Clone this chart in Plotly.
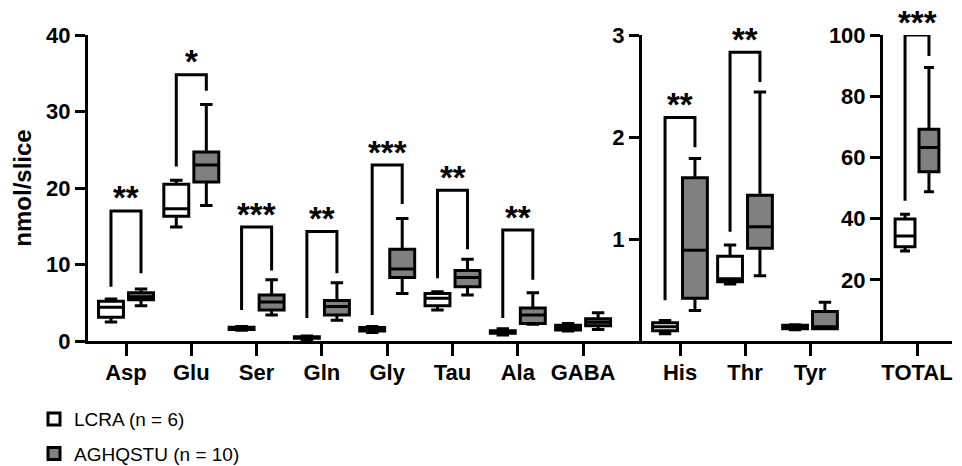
import plotly.graph_objects as go

# ---------------- data ----------------
cats_left = ["Asp", "Glu", "Ser", "Gln", "Gly", "Tau", "Ala", "GABA"]
cats_mid = ["His", "Thr", "Tyr"]
cats_right = ["TOTAL"]

# LCRA (n = 6): min, q1, median, q3, max
lcra_min_left = [2.5, 14.9, 1.4, 0.2, 1.1, 4.05, 0.8, 1.3]
lcra_q1_left = [3.1, 16.3, 1.5, 0.35, 1.3, 4.6, 1.0, 1.45]
lcra_med_left = [4.4, 17.3, 1.6, 0.45, 1.5, 5.6, 1.2, 1.8]
lcra_q3_left = [5.2, 20.5, 1.8, 0.55, 1.75, 6.2, 1.35, 2.05]
lcra_max_left = [5.5, 21.0, 1.9, 0.65, 1.9, 6.45, 1.6, 2.3]

agh_min_left = [4.6, 17.7, 3.4, 2.7, 6.2, 6.0, 2.2, 1.5]
agh_q1_left = [5.4, 20.8, 4.05, 3.4, 8.3, 7.1, 2.3, 2.0]
agh_med_left = [5.8, 23.0, 5.1, 4.5, 9.4, 8.3, 3.4, 2.45]
agh_q3_left = [6.3, 24.7, 6.0, 5.3, 12.0, 9.2, 4.3, 2.9]
agh_max_left = [6.8, 30.9, 8.0, 7.6, 16.0, 10.7, 6.3, 3.7]

lcra_min_mid = [0.07, 0.56, 0.11]
lcra_q1_mid = [0.10, 0.58, 0.12]
lcra_med_mid = [0.14, 0.61, 0.14]
lcra_q3_mid = [0.18, 0.83, 0.155]
lcra_max_mid = [0.20, 0.94, 0.16]

agh_min_mid = [0.30, 0.64, 0.12]
agh_q1_mid = [0.42, 0.91, 0.12]
agh_med_mid = [0.89, 1.12, 0.14]
agh_q3_mid = [1.60, 1.43, 0.29]
agh_max_mid = [1.79, 2.44, 0.38]

lcra_min_right = [29.4]
lcra_q1_right = [30.8]
lcra_med_right = [34.3]
lcra_q3_right = [39.9]
lcra_max_right = [41.4]

agh_min_right = [48.8]
agh_q1_right = [55.3]
agh_med_right = [63.2]
agh_q3_right = [69.2]
agh_max_right = [89.4]

# significance brackets: top, left-leg bottom, right-leg bottom, label
br_cats_left = ["Asp", "Glu", "Ser", "Gln", "Gly", "Tau", "Ala"]
br_top_left = [17.0, 34.8, 14.9, 14.3, 23.0, 19.7, 14.5]
br_lb_left = [7.1, 22.8, 4.05, 3.0, 3.4, 8.2, 3.0]
br_rb_left = [8.85, 32.7, 9.2, 8.85, 17.9, 12.0, 8.0]
br_lab_left = ["**", "*", "***", "**", "***", "**", "**"]

br_cats_mid = ["His", "Thr"]
br_top_mid = [2.19, 2.83]
br_lb_mid = [0.40, 1.07]
br_rb_mid = [1.90, 2.54]
br_lab_mid = ["**", "**"]

br_cats_right = ["TOTAL"]
br_top_right = [100.0]
br_lb_right = [45.8]
br_rb_right = [93.1]
br_lab_right = ["***"]

y_ticks_left = [0, 10, 20, 30, 40]
y_ticks_mid = [1, 2, 3]
y_ticks_right = [20, 40, 60, 80, 100]

# ---------------- styling ----------------
W, H = 962, 466
FONT = "Liberation Sans, Arial, sans-serif"
GREY = "#808080"
LW = 3
BOXGAP = 0.08
GROUPGAP = 0.17
OFF = (1 - BOXGAP) / 4  # centre offset of each box in category units

fig = go.Figure()

panels = [
    ("x", "y", cats_left,
     (lcra_min_left, lcra_q1_left, lcra_med_left, lcra_q3_left, lcra_max_left),
     (agh_min_left, agh_q1_left, agh_med_left, agh_q3_left, agh_max_left)),
    ("x2", "y2", cats_mid,
     (lcra_min_mid, lcra_q1_mid, lcra_med_mid, lcra_q3_mid, lcra_max_mid),
     (agh_min_mid, agh_q1_mid, agh_med_mid, agh_q3_mid, agh_max_mid)),
    ("x3", "y3", cats_right,
     (lcra_min_right, lcra_q1_right, lcra_med_right, lcra_q3_right, lcra_max_right),
     (agh_min_right, agh_q1_right, agh_med_right, agh_q3_right, agh_max_right)),
]

for i, (xa, ya, cats, s1, s2) in enumerate(panels):
    for name, stats, fill, grp in [("LCRA (n = 6)", s1, "white", "a"),
                                   ("AGHQSTU (n = 10)", s2, GREY, "b")]:
        mn, q1, md, q3, mx = stats
        fig.add_trace(go.Box(
            x=cats, q1=q1, median=md, q3=q3, lowerfence=mn, upperfence=mx,
            name=name, legendgroup=grp, offsetgroup=grp, showlegend=(i == 0),
            fillcolor=fill, line=dict(color="black", width=LW),
            whiskerwidth=0.5, boxpoints=False, xaxis=xa, yaxis=ya,
            hoverinfo="skip",
        ))

shapes = []
annotations = []
for xa, ya, cats, bc, top, lb, rb, lab in [
    ("x", "y", cats_left, br_cats_left, br_top_left, br_lb_left, br_rb_left, br_lab_left),
    ("x2", "y2", cats_mid, br_cats_mid, br_top_mid, br_lb_mid, br_rb_mid, br_lab_mid),
    ("x3", "y3", cats_right, br_cats_right, br_top_right, br_lb_right, br_rb_right, br_lab_right),
]:
    for c, t, l, r, s in zip(bc, top, lb, rb, lab):
        idx = cats.index(c)
        x0, x1 = idx - OFF, idx + OFF
        shapes.append(dict(
            type="path", xref=xa, yref=ya,
            path=f"M {x0},{l} L {x0},{t} L {x1},{t} L {x1},{r}",
            line=dict(color="black", width=LW),
        ))
        annotations.append(dict(
            x=idx, y=t, xref=xa, yref=ya, text=s, showarrow=False,
            yanchor="middle", yshift=13,
            font=dict(family=FONT, size=33, color="black", weight="bold"),
        ))

def px(v):
    return v / W

axis_common = dict(
    showline=True, linecolor="black", linewidth=LW,
    ticks="outside", ticklen=12, tickwidth=LW, tickcolor="black",
    showgrid=False, zeroline=False,
    tickfont=dict(family=FONT, size=22, color="black", weight="bold"),
)

# pixel geometry of panels
L0, L1 = 88, 642
M0, M1 = 642, 883
R0, R1 = 883, 952
left_start = -38 / 65.3
mid_start = -38 / 65.0
right_start = -34 / 52.0

fig.update_layout(
    width=W, height=H,
    margin=dict(l=0, r=0, t=35, b=125, autoexpand=False),
    paper_bgcolor="white", plot_bgcolor="white",
    boxmode="group", boxgap=BOXGAP, boxgroupgap=GROUPGAP,
    shapes=shapes, annotations=annotations,
    xaxis=dict(axis_common, domain=[px(L0), px(L1)], type="category",
               categoryorder="array", categoryarray=cats_left,
               range=[left_start, left_start + (L1 - L0) / 65.3], anchor="y",
               ticklabelstandoff=-2),
    xaxis2=dict(axis_common, domain=[px(M0), px(M1)], type="category",
                categoryorder="array", categoryarray=cats_mid,
                range=[mid_start, mid_start + (M1 - M0) / 65.0], anchor="y2",
                ticklabelstandoff=-2),
    xaxis3=dict(axis_common, domain=[px(R0), px(R1)], type="category",
                categoryorder="array", categoryarray=cats_right,
                range=[right_start, right_start + (R1 - R0) / 52.0], anchor="y3",
                ticklabelstandoff=-2),
    yaxis=dict(axis_common, domain=[0, 1], range=[0, 40], tickvals=y_ticks_left,
               anchor="x", ticklen=10,
               title=dict(text="nmol/slice", standoff=8,
                          font=dict(family=FONT, size=24, color="black", weight="bold"))),
    yaxis2=dict(axis_common, domain=[0, 1], range=[0, 3], tickvals=y_ticks_mid,
                anchor="x2", ticklen=10),
    yaxis3=dict(axis_common, domain=[0, 1], range=[0, 100], tickvals=y_ticks_right,
                anchor="x3", ticklen=10),
    legend=dict(
        x=px(34), y=-0.193, xanchor="left", yanchor="top",
        font=dict(family=FONT, size=19, color="black"),
        traceorder="grouped", tracegroupgap=7,
        bgcolor="rgba(0,0,0,0)",
    ),
    showlegend=True,
)

fig.write_html("out.html", config={"displayModeBar": False},
               post_script="document.body.style.margin='0';")
